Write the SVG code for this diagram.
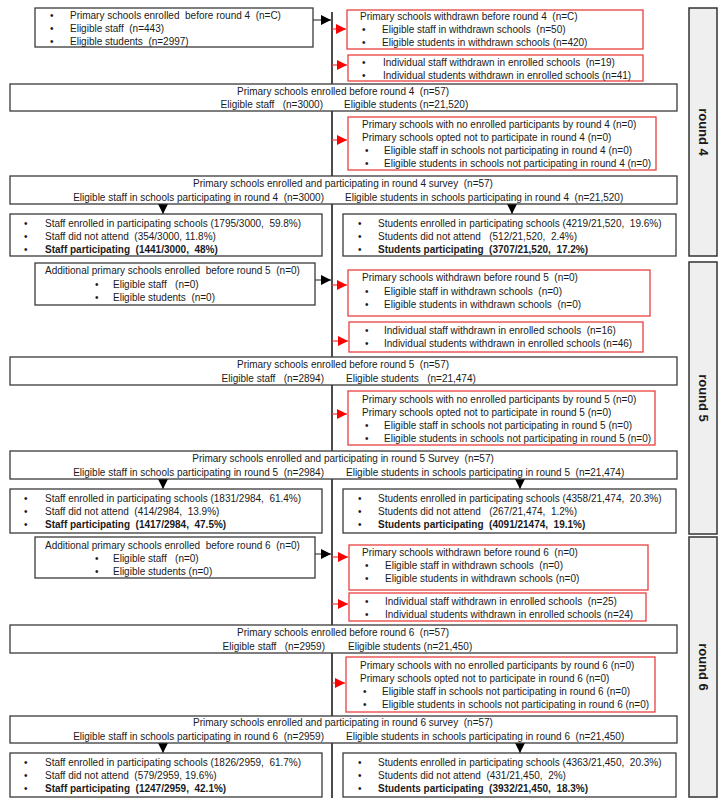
<svg xmlns="http://www.w3.org/2000/svg" width="728" height="800" viewBox="0 0 728 800">
<defs>
<style>
.bx{fill:#fff;stroke:#3a3a3a;stroke-width:1.3}
.rb{fill:#fff;stroke:#e8403f;stroke-width:1.3}
.rd{fill:#efefef;stroke:#333;stroke-width:1.5}
text{font-family:"Liberation Sans",Arial,sans-serif;font-size:10px;fill:#1a1a1a;white-space:pre}
.c{text-anchor:middle}
.e{text-anchor:end}
.b{font-weight:bold}
.rl{font-size:13px;font-weight:bold;text-anchor:middle;dominant-baseline:central}
.ln{stroke:#111;stroke-width:1.5;fill:none}
.bl{stroke:#444;stroke-width:1.2;fill:none}
.rn{stroke:#e8403f;stroke-width:1.2;fill:none}
</style>
<marker id="ab" viewBox="0 0 10 10" refX="10" refY="5" markerWidth="10" markerHeight="10" markerUnits="userSpaceOnUse" orient="auto"><path d="M0,0 L10,5 L0,10 z" fill="#000"/></marker>
<marker id="ar" viewBox="0 0 10 10" refX="10" refY="5" markerWidth="10" markerHeight="10" markerUnits="userSpaceOnUse" orient="auto"><path d="M0,0 L10,5 L0,10 z" fill="#f00"/></marker>
</defs>
<rect width="728" height="800" fill="#fff"/>

<g id="connectors">
<line class="ln" x1="332" y1="12" x2="332" y2="798"/>
<line class="bl" x1="313" y1="20" x2="331" y2="20" marker-end="url(#ab)"/>
<line class="rn" x1="332" y1="29" x2="346" y2="29" marker-end="url(#ar)"/>
<line class="rn" x1="332" y1="65" x2="347" y2="65" marker-end="url(#ar)"/>
<line class="rn" x1="332" y1="140" x2="347" y2="140" marker-end="url(#ar)"/>
<line class="bl" x1="163" y1="204" x2="163" y2="214" marker-end="url(#ab)"/>
<line class="bl" x1="512" y1="204" x2="512" y2="214" marker-end="url(#ab)"/>
<line class="bl" x1="315" y1="280" x2="331" y2="280" marker-end="url(#ab)"/>
<line class="rn" x1="332" y1="285" x2="347" y2="285" marker-end="url(#ar)"/>
<line class="rn" x1="332" y1="341" x2="348" y2="341" marker-end="url(#ar)"/>
<line class="rn" x1="332" y1="414" x2="347" y2="414" marker-end="url(#ar)"/>
<line class="bl" x1="163" y1="479" x2="163" y2="489" marker-end="url(#ab)"/>
<line class="bl" x1="520" y1="479" x2="520" y2="489" marker-end="url(#ab)"/>
<line class="bl" x1="315" y1="554" x2="331" y2="554" marker-end="url(#ab)"/>
<line class="rn" x1="332" y1="557" x2="348" y2="557" marker-end="url(#ar)"/>
<line class="rn" x1="332" y1="604" x2="348" y2="604" marker-end="url(#ar)"/>
<line class="rn" x1="332" y1="683" x2="345" y2="683" marker-end="url(#ar)"/>
<line class="bl" x1="163" y1="743" x2="163" y2="753" marker-end="url(#ab)"/>
<line class="bl" x1="520" y1="743" x2="520" y2="753" marker-end="url(#ab)"/>
</g>

<!-- Round 4 -->
<g id="r4-enrolled">
<rect class="bx" x="35" y="8" width="278" height="39"/>
<text x="50" y="18.5">•</text><text x="70" y="18.5">Primary schools enrolled  before round 4  (n=C)</text>
<text x="50" y="31.5">•</text><text x="70" y="31.5">Eligible staff  (n=443)</text>
<text x="50" y="44.5">•</text><text x="70" y="44.5">Eligible students  (n=2997)</text>
</g>
<g id="r4-withdrawn">
<rect class="rb" x="347" y="10" width="296" height="39"/>
<text x="360" y="19.5">Primary schools withdrawn before round 4  (n=C)</text>
<text x="362" y="32.5">•</text><text x="382" y="32.5">Eligible staff in withdrawn schools  (n=50)</text>
<text x="362" y="45.5">•</text><text x="382" y="45.5">Eligible students in withdrawn schools (n=420)</text>
</g>
<g id="r4-individual">
<rect class="rb" x="348" y="55" width="295" height="26"/>
<text x="362" y="65.5">•</text><text x="383" y="65.5">Individual staff withdrawn in enrolled schools  (n=19)</text>
<text x="362" y="78.5">•</text><text x="383" y="78.5">Individual students withdrawn in enrolled schools (n=41)</text>
</g>
<g id="r4-before">
<rect class="bx" x="10" y="84" width="667" height="27"/>
<text class="c" x="343" y="94.5">Primary schools enrolled before round 4  (n=57)</text>
<text class="e" x="323" y="107.5">Eligible staff   (n=3000)</text>
<text x="344" y="107.5">Eligible students (n=21,520)</text>
</g>
<g id="r4-notpart">
<rect class="rb" x="348" y="117" width="308" height="53"/>
<text x="362" y="127.5">Primary schools with no enrolled participants by round 4 (n=0)</text>
<text x="362" y="140.5">Primary schools opted not to participate in round 4 (n=0)</text>
<text x="365" y="153.5">•</text><text x="384" y="153.5">Eligible staff in schools not participating in round 4 (n=0)</text>
<text x="365" y="166.5">•</text><text x="384" y="166.5">Eligible students in schools not participating in round 4 (n=0)</text>
</g>
<g id="r4-participating">
<rect class="bx" x="10" y="176" width="667" height="28"/>
<text class="c" x="343" y="186.5">Primary schools enrolled and participating in round 4 survey  (n=57)</text>
<text class="e" x="324" y="200.5">Eligible staff in schools participating in round 4  (n=3000)</text>
<text x="345" y="200.5">Eligible students in schools participating in round 4  (n=21,520)</text>
</g>
<g id="r4-staff">
<rect class="bx" x="10" y="214" width="312" height="42"/>
<text x="24" y="226.5">•</text><text x="45" y="226.5">Staff enrolled in participating schools (1795/3000,  59.8%)</text>
<text x="24" y="239.5">•</text><text x="45" y="239.5">Staff did not attend  (354/3000, 11.8%)</text>
<text x="24" y="252.5">•</text><text class="b" x="45" y="252.5">Staff participating  (1441/3000,  48%)</text>
</g>
<g id="r4-students">
<rect class="bx" x="343" y="214" width="333" height="42"/>
<text x="358" y="226.5">•</text><text x="378" y="226.5">Students enrolled in participating schools (4219/21,520,  19.6%)</text>
<text x="358" y="239.5">•</text><text x="378" y="239.5">Students did not attend   (512/21,520,  2.4%)</text>
<text x="358" y="252.5">•</text><text class="b" x="378" y="252.5">Students participating  (3707/21,520,  17.2%)</text>
</g>
<g id="round4">
<rect class="rd" x="689" y="8" width="28" height="248"/>
<text class="rl" x="703" y="132" transform="rotate(90 703 132)">round 4</text>
</g>

<!-- Round 5 -->
<g id="r5-additional">
<rect class="bx" x="35" y="263" width="280" height="42"/>
<text x="45" y="273.5">Additional primary schools enrolled  before round 5  (n=0)</text>
<text x="95" y="287.5">•</text><text x="113" y="287.5">Eligible staff   (n=0)</text>
<text x="95" y="301">•</text><text x="113" y="301">Eligible students  (n=0)</text>
</g>
<g id="r5-withdrawn">
<rect class="rb" x="348" y="270" width="302" height="46"/>
<text x="362" y="281">Primary schools withdrawn before round 5  (n=0)</text>
<text x="365" y="294.5">•</text><text x="384" y="294.5">Eligible staff in withdrawn schools  (n=0)</text>
<text x="365" y="308">•</text><text x="384" y="308">Eligible students in withdrawn schools  (n=0)</text>
</g>
<g id="r5-individual">
<rect class="rb" x="349" y="322" width="294" height="30"/>
<text x="365" y="333.5">•</text><text x="384" y="333.5">Individual staff withdrawn in enrolled schools  (n=16)</text>
<text x="365" y="347">•</text><text x="384" y="347">Individual students withdrawn in enrolled schools (n=46)</text>
</g>
<g id="r5-before">
<rect class="bx" x="10" y="357" width="667" height="28"/>
<text class="c" x="343" y="367.5">Primary schools enrolled before round 5  (n=57)</text>
<text class="e" x="324" y="381.5">Eligible staff   (n=2894)</text>
<text x="346" y="381.5">Eligible students   (n=21,474)</text>
</g>
<g id="r5-notpart">
<rect class="rb" x="348" y="391" width="307" height="54"/>
<text x="362" y="402.5">Primary schools with no enrolled participants by round 5 (n=0)</text>
<text x="362" y="415.5">Primary schools opted not to participate in round 5 (n=0)</text>
<text x="365" y="428.5">•</text><text x="384" y="428.5">Eligible staff in schools not participating in round 5 (n=0)</text>
<text x="365" y="441.5">•</text><text x="384" y="441.5">Eligible students in schools not participating in round 5 (n=0)</text>
</g>
<g id="r5-participating">
<rect class="bx" x="10" y="451" width="667" height="28"/>
<text class="c" x="343" y="461.5">Primary schools enrolled and participating in round 5 Survey  (n=57)</text>
<text class="e" x="324" y="475.5">Eligible staff in schools participating in round 5  (n=2984)</text>
<text x="346" y="475.5">Eligible students in schools participating in round 5  (n=21,474)</text>
</g>
<g id="r5-staff">
<rect class="bx" x="10" y="489" width="312" height="44"/>
<text x="24" y="501.5">•</text><text x="45" y="501.5">Staff enrolled in participating schools (1831/2984,  61.4%)</text>
<text x="24" y="514.5">•</text><text x="45" y="514.5">Staff did not attend  (414/2984,  13.9%)</text>
<text x="24" y="527.5">•</text><text class="b" x="45" y="527.5">Staff participating  (1417/2984,  47.5%)</text>
</g>
<g id="r5-students">
<rect class="bx" x="343" y="489" width="333" height="44"/>
<text x="358" y="501.5">•</text><text x="378" y="501.5">Students enrolled in participating schools (4358/21,474,  20.3%)</text>
<text x="358" y="514.5">•</text><text x="378" y="514.5">Students did not attend   (267/21,474,  1.2%)</text>
<text x="358" y="527.5">•</text><text class="b" x="378" y="527.5">Students participating  (4091/21474,  19.1%)</text>
</g>
<g id="round5">
<rect class="rd" x="689" y="262" width="28" height="272"/>
<text class="rl" x="703" y="398" transform="rotate(90 703 398)">round 5</text>
</g>

<!-- Round 6 -->
<g id="r6-additional">
<rect class="bx" x="35" y="537" width="280" height="41"/>
<text x="45" y="548.5">Additional primary schools enrolled  before round 6  (n=0)</text>
<text x="95" y="561.5">•</text><text x="113" y="561.5">Eligible staff   (n=0)</text>
<text x="95" y="574.5">•</text><text x="113" y="574.5">Eligible students (n=0)</text>
</g>
<g id="r6-withdrawn">
<rect class="rb" x="349" y="545" width="299" height="45"/>
<text x="362" y="555.5">Primary schools withdrawn before round 6  (n=0)</text>
<text x="365" y="568.5">•</text><text x="385" y="568.5">Eligible staff in withdrawn schools  (n=0)</text>
<text x="365" y="582">•</text><text x="385" y="582">Eligible students in withdrawn schools (n=0)</text>
</g>
<g id="r6-individual">
<rect class="rb" x="349" y="593" width="297" height="28"/>
<text x="365" y="604.5">•</text><text x="385" y="604.5">Individual staff withdrawn in enrolled schools  (n=25)</text>
<text x="365" y="617.5">•</text><text x="385" y="617.5">Individual students withdrawn in enrolled schools (n=24)</text>
</g>
<g id="r6-before">
<rect class="bx" x="10" y="625" width="667" height="28"/>
<text class="c" x="343" y="635.5">Primary schools enrolled before round 6  (n=57)</text>
<text class="e" x="325" y="649.5">Eligible staff   (n=2959)</text>
<text x="348" y="649.5">Eligible students (n=21,450)</text>
</g>
<g id="r6-notpart">
<rect class="rb" x="346" y="657" width="309" height="55"/>
<text x="360" y="668.5">Primary schools with no enrolled participants by round 6 (n=0)</text>
<text x="360" y="681.5">Primary schools opted not to participate in round 6 (n=0)</text>
<text x="363" y="694.5">•</text><text x="382" y="694.5">Eligible staff in schools not participating in round 6 (n=0)</text>
<text x="363" y="707.5">•</text><text x="382" y="707.5">Eligible students in schools not participating in round 6 (n=0)</text>
</g>
<g id="r6-participating">
<rect class="bx" x="10" y="716" width="667" height="27"/>
<text class="c" x="343" y="726">Primary schools enrolled and participating in round 6 survey  (n=57)</text>
<text class="e" x="324" y="739.5">Eligible staff in schools participating in round 6  (n=2959)</text>
<text x="346" y="739.5">Eligible students in schools participating in round 6  (n=21,450)</text>
</g>
<g id="r6-staff">
<rect class="bx" x="10" y="753" width="312" height="44"/>
<text x="24" y="765.5">•</text><text x="45" y="765.5">Staff enrolled in participating schools (1826/2959,  61.7%)</text>
<text x="24" y="778.5">•</text><text x="45" y="778.5">Staff did not attend  (579/2959, 19.6%)</text>
<text x="24" y="791.5">•</text><text class="b" x="45" y="791.5">Staff participating  (1247/2959,  42.1%)</text>
</g>
<g id="r6-students">
<rect class="bx" x="343" y="753" width="333" height="44"/>
<text x="358" y="765.5">•</text><text x="378" y="765.5">Students enrolled in participating schools (4363/21,450,  20.3%)</text>
<text x="358" y="778.5">•</text><text x="378" y="778.5">Students did not attend  (431/21,450,  2%)</text>
<text x="358" y="791.5">•</text><text class="b" x="378" y="791.5">Students participating  (3932/21,450,  18.3%)</text>
</g>
<g id="round6">
<rect class="rd" x="689" y="537" width="28" height="260"/>
<text class="rl" x="703" y="667" transform="rotate(90 703 667)">round 6</text>
</g>
</svg>
